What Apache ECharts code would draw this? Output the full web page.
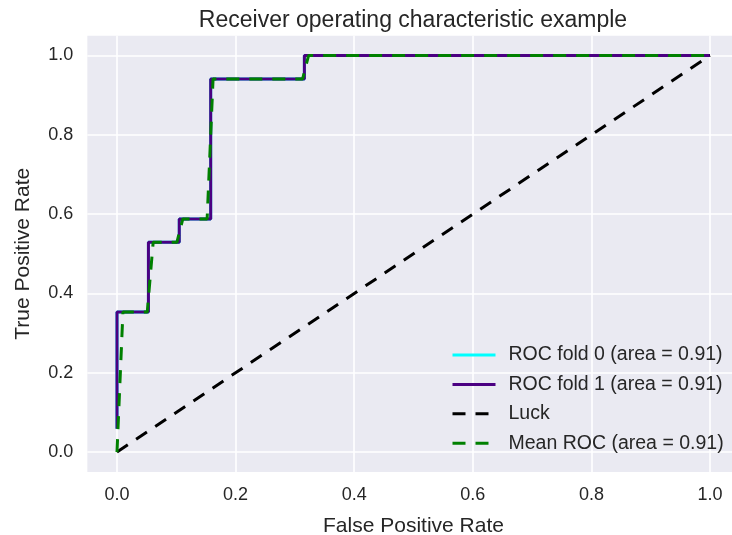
<!DOCTYPE html>
<html>
<head>
<meta charset="utf-8">
<title>ROC curves</title>
<script src="https://cdn.jsdelivr.net/npm/echarts@6/dist/echarts.min.js"></script>
<style>
  html, body { margin: 0; padding: 0; background: #ffffff; }
  #chart { width: 732px; height: 535px; }
</style>
</head>
<body>
<div id="chart"></div>
<script>
// ROC curve of each cross-validation fold (step curves)
const fold0Fpr = [0, 0, 0.053, 0.053, 0.105, 0.105, 0.158, 0.158, 0.316, 0.316, 1.0];
const fold0Tpr = [0.059, 0.353, 0.353, 0.529, 0.529, 0.588, 0.588, 0.941, 0.941, 1.0, 1.0];
const fold1Fpr = [0, 0, 0.053, 0.053, 0.105, 0.105, 0.158, 0.158, 0.316, 0.316, 1.0];
const fold1Tpr = [0.059, 0.353, 0.353, 0.529, 0.529, 0.588, 0.588, 0.941, 0.941, 1.0, 1.0];
// Chance diagonal
const luckFpr = [0, 1];
const luckTpr = [0, 1];
// Mean ROC over the folds (corner points of the averaged curve)
const meanFpr = [0, 0.010, 0.051, 0.061, 0.101, 0.111, 0.152, 0.162, 0.313, 0.323, 1.0];
const meanTpr = [0, 0.353, 0.353, 0.529, 0.529, 0.588, 0.588, 0.941, 0.941, 1.0, 1.0];

const seriesNames = [
  'ROC fold 0 (area = 0.91)',
  'ROC fold 1 (area = 0.91)',
  'Luck',
  'Mean ROC (area = 0.91)'
];
const tickValues = [0, 0.2, 0.4, 0.6, 0.8, 1.0];
const tickLabels = ['0.0', '0.2', '0.4', '0.6', '0.8', '1.0'];

const FONT = "'Liberation Sans', Arial, Helvetica, sans-serif";
const TEXT = '#262626';
const DASH = [13, 10];

function pairs(xs, ys) {
  return xs.map((x, i) => [x, ys[i]]);
}
function tickText(v) {
  const i = tickValues.findIndex(t => Math.abs(t - v) < 1e-9);
  return i >= 0 ? tickLabels[i] : '';
}

function axis(name, nameGap) {
  return {
    type: 'value',
    min: -0.05,
    max: 1.05,
    name: name,
    nameLocation: 'middle',
    nameGap: nameGap,
    nameTextStyle: { color: TEXT, fontFamily: FONT, fontSize: 21 },
    axisLine: { show: false },
    axisTick: { show: false, customValues: tickValues },
    axisLabel: {
      customValues: tickValues,
      formatter: tickText,
      color: TEXT,
      fontFamily: FONT,
      fontSize: 18,
      margin: 14
    },
    splitLine: { show: true, lineStyle: { color: '#ffffff', width: 1.6 } }
  };
}

const chart = echarts.init(document.getElementById('chart'), null, { renderer: 'canvas' });
chart.setOption({
  animation: false,
  backgroundColor: '#ffffff',
  title: {
    text: 'Receiver operating characteristic example',
    left: 408,
    textAlign: 'center',
    top: 4,
    textStyle: { color: TEXT, fontFamily: FONT, fontSize: 23, fontWeight: 'normal' }
  },
  grid: {
    left: 87.35,
    top: 35.7,
    width: 652.3,
    height: 436.2,
    show: true,
    backgroundColor: '#EAEAF2',
    borderWidth: 0,
    containLabel: false,
    outerBoundsMode: 'none'
  },
  xAxis: axis('False Positive Rate', 44),
  yAxis: axis('True Positive Rate', 54),
  legend: {
    orient: 'vertical',
    left: 451,
    top: 345,
    padding: 0,
    itemWidth: 43,
    itemHeight: 20,
    itemGap: 9.4,
    itemStyle: { opacity: 0 },
    lineStyle: { width: 3 },
    textStyle: { color: TEXT, fontFamily: FONT, fontSize: 19.5, padding: [0, 0, 0, 8] },
    data: seriesNames
  },
  series: [
    {
      name: seriesNames[0], type: 'line', symbol: 'none',
      data: pairs(fold0Fpr, fold0Tpr),
      lineStyle: { color: '#00FFFF', width: 3 }, itemStyle: { color: '#00FFFF' }
    },
    {
      name: seriesNames[1], type: 'line', symbol: 'none',
      data: pairs(fold1Fpr, fold1Tpr),
      lineStyle: { color: '#4B0082', width: 3 }, itemStyle: { color: '#4B0082' }
    },
    {
      name: seriesNames[2], type: 'line', symbol: 'none',
      data: pairs(luckFpr, luckTpr),
      lineStyle: { color: '#000000', width: 3, type: DASH }, itemStyle: { color: '#000000' }
    },
    {
      name: seriesNames[3], type: 'line', symbol: 'none',
      data: pairs(meanFpr, meanTpr),
      lineStyle: { color: '#008000', width: 3, type: DASH }, itemStyle: { color: '#008000' }
    }
  ]
});
</script>
</body>
</html>
